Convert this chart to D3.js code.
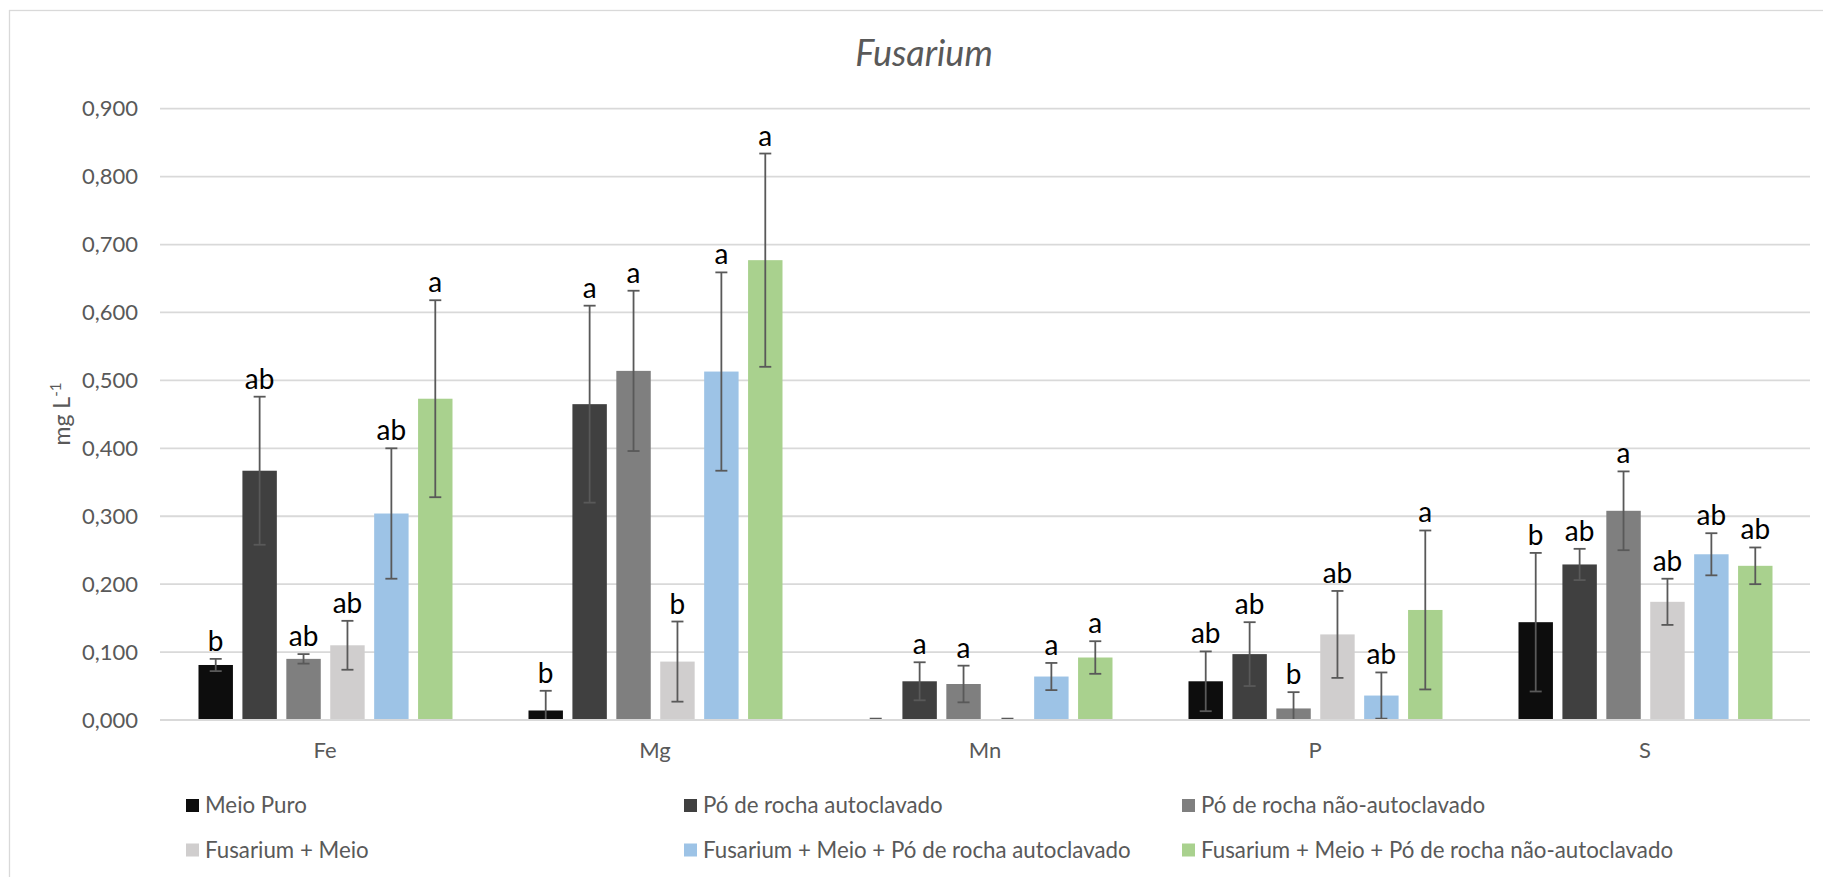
<!DOCTYPE html>
<html>
<head>
<meta charset="utf-8">
<script src="https://cdn.jsdelivr.net/npm/d3@7"></script>
<style>
  html, body { margin: 0; padding: 0; background: #ffffff; }
  svg { display: block; }
</style>
</head>
<body>
<svg id="chart" width="1823" height="877"></svg>
<script>
// ---------- DATA ----------
const categories = ["Fe", "Mg", "Mn", "P", "S"];
const seriesNames = [
  "Meio Puro",
  "Pó de rocha autoclavado",
  "Pó de rocha não-autoclavado",
  "Fusarium + Meio",
  "Fusarium + Meio + Pó de rocha autoclavado",
  "Fusarium + Meio + Pó de rocha não-autoclavado"
];
const meioPuro      = [0.081, 0.014, 0.001, 0.057, 0.144];
const meioPuroErr   = [0.009, 0.029, 0.001, 0.044, 0.102];
const meioPuroLet   = ["b", "b", "", "ab", "b"];
const poAuto        = [0.367, 0.465, 0.057, 0.097, 0.229];
const poAutoErr     = [0.109, 0.145, 0.028, 0.047, 0.023];
const poAutoLet     = ["ab", "a", "a", "ab", "ab"];
const poNao         = [0.090, 0.514, 0.053, 0.017, 0.308];
const poNaoErr      = [0.007, 0.118, 0.027, 0.024, 0.058];
const poNaoLet      = ["ab", "a", "a", "b", "a"];
const fusMeio       = [0.110, 0.086, 0.001, 0.126, 0.174];
const fusMeioErr    = [0.036, 0.059, 0.001, 0.064, 0.034];
const fusMeioLet    = ["ab", "b", "", "ab", "ab"];
const fusAuto       = [0.304, 0.513, 0.064, 0.036, 0.244];
const fusAutoErr    = [0.096, 0.146, 0.020, 0.034, 0.031];
const fusAutoLet    = ["ab", "a", "a", "ab", "ab"];
const fusNao        = [0.473, 0.677, 0.092, 0.162, 0.227];
const fusNaoErr     = [0.145, 0.157, 0.024, 0.117, 0.027];
const fusNaoLet     = ["a", "a", "a", "a", "ab"];
const yTicks = [0, 0.1, 0.2, 0.3, 0.4, 0.5, 0.6, 0.7, 0.8, 0.9];
const colors = ["#0d0d0d", "#404040", "#7f7f7f", "#d0cece", "#9dc3e6", "#a9d18e"];
const titleText = "Fusarium";

// ---------- BUILD ----------
const allVals = [meioPuro, poAuto, poNao, fusMeio, fusAuto, fusNao];
const allErrs = [meioPuroErr, poAutoErr, poNaoErr, fusMeioErr, fusAutoErr, fusNaoErr];
const allLets = [meioPuroLet, poAutoLet, poNaoLet, fusMeioLet, fusAutoLet, fusNaoLet];
const records = [];
categories.forEach((c, ci) => {
  seriesNames.forEach((s, si) => {
    records.push({cat: c, ser: s, si: si, v: allVals[si][ci], e: allErrs[si][ci], l: allLets[si][ci]});
  });
});

const FONT = "Lato, 'Open Sans', sans-serif";
const svg = d3.select("#chart");

svg.append("rect")
  .attr("x", 9.5).attr("y", 10.5).attr("width", 1900).attr("height", 1000)
  .attr("fill", "#ffffff").attr("stroke", "#d9d9d9").attr("stroke-width", 1.3);

const pLeft = 160, pRight = 1810, pTop = 108.7, pBottom = 720;

const x0 = d3.scaleBand().domain(categories).range([pLeft, pRight]).paddingInner(0).paddingOuter(0);
const x1 = d3.scaleBand().domain(seriesNames).range([38.5, x0.bandwidth() - 37.5]).paddingInner(0.216).paddingOuter(0);
const y = d3.scaleLinear().domain([0, 0.9]).range([pBottom, pTop]);

const loc = d3.formatLocale({decimal: ",", thousands: ".", grouping: [3], currency: ["", ""]});
const fmt = loc.format(".3f");

// gridlines
svg.append("g").selectAll("line").data(yTicks).join("line")
  .attr("x1", pLeft).attr("x2", pRight)
  .attr("y1", d => y(d)).attr("y2", d => y(d))
  .attr("stroke", "#d9d9d9").attr("stroke-width", 1.8);

// y axis labels via axis generator
const yAxis = d3.axisLeft(y).tickValues(yTicks).tickFormat(fmt).tickSize(0).tickPadding(0);
const gy = svg.append("g").attr("transform", `translate(${pLeft - 22},0)`).call(yAxis);
gy.select(".domain").remove();
gy.selectAll("text").attr("font-family", FONT).attr("font-size", 22).attr("fill", "#595959");

// x axis labels
const xAxis = d3.axisBottom(x0).tickSize(0).tickPadding(0);
const gx = svg.append("g").attr("transform", `translate(0,${pBottom + 22})`).call(xAxis);
gx.select(".domain").remove();
gx.selectAll("text").attr("font-family", FONT).attr("font-size", 22).attr("fill", "#595959");

// bars
const groups = svg.append("g").selectAll("g").data(categories).join("g")
  .attr("transform", d => `translate(${x0(d)},0)`);

groups.selectAll("rect").data(c => records.filter(r => r.cat === c)).join("rect")
  .attr("x", d => x1(d.ser)).attr("width", x1.bandwidth())
  .attr("y", d => y(d.v)).attr("height", d => y(0) - y(d.v))
  .attr("fill", d => colors[d.si]);

// baseline axis line
svg.append("line").attr("x1", pLeft).attr("x2", pRight).attr("y1", y(0)).attr("y2", y(0))
  .attr("stroke", "#d9d9d9").attr("stroke-width", 1.8);

// error bars
const capW = 6;
groups.each(function(c) {
  const g = d3.select(this);
  const recs = records.filter(r => r.cat === c);
  recs.forEach(d => {
    const cx = x1(d.ser) + x1.bandwidth() / 2;
    const hi = d.v + d.e, lo = Math.max(0, d.v - d.e);
    const eb = g.append("g").attr("stroke", "#595959").attr("stroke-width", 1.8);
    eb.append("line").attr("x1", cx).attr("x2", cx).attr("y1", y(hi)).attr("y2", y(lo));
    eb.append("line").attr("x1", cx - capW).attr("x2", cx + capW).attr("y1", y(hi)).attr("y2", y(hi));
    if (d.v - d.e >= 0) {
      eb.append("line").attr("x1", cx - capW).attr("x2", cx + capW).attr("y1", y(lo)).attr("y2", y(lo));
    }
    if (d.l) {
      g.append("text")
        .attr("x", cx).attr("y", y(hi) - 8)
        .attr("text-anchor", "middle")
        .attr("font-family", FONT).attr("font-size", 28).attr("fill", "#000000")
        .text(d.l);
    }
  });
});

// title
svg.append("text").attr("x", 924).attr("y", 66).attr("text-anchor", "middle")
  .attr("font-family", FONT).attr("font-style", "italic").attr("font-size", 36)
  .attr("fill", "#595959").text(titleText);

// y axis title
const yt = svg.append("text")
  .attr("transform", "translate(70,414) rotate(-90)")
  .attr("text-anchor", "middle")
  .attr("font-family", FONT).attr("font-size", 23).attr("fill", "#595959");
yt.append("tspan").text("mg L");
yt.append("tspan").attr("dy", -9).attr("font-size", 15).text("-1");

// legend
const legX = [186, 684, 1182];
const legY = [805.5, 850];
const leg = svg.append("g").selectAll("g").data(seriesNames).join("g")
  .attr("transform", (d, i) => `translate(${legX[i % 3]},${legY[Math.floor(i / 3)]})`);
leg.append("rect").attr("x", 0).attr("y", -6.5).attr("width", 13).attr("height", 13)
  .attr("fill", (d, i) => colors[i]);
leg.append("text").attr("x", 19).attr("y", 0).attr("dy", "0.35em")
  .attr("font-family", FONT).attr("font-size", 22.3).attr("fill", "#595959")
  .text(d => d);
</script>
</body>
</html>
